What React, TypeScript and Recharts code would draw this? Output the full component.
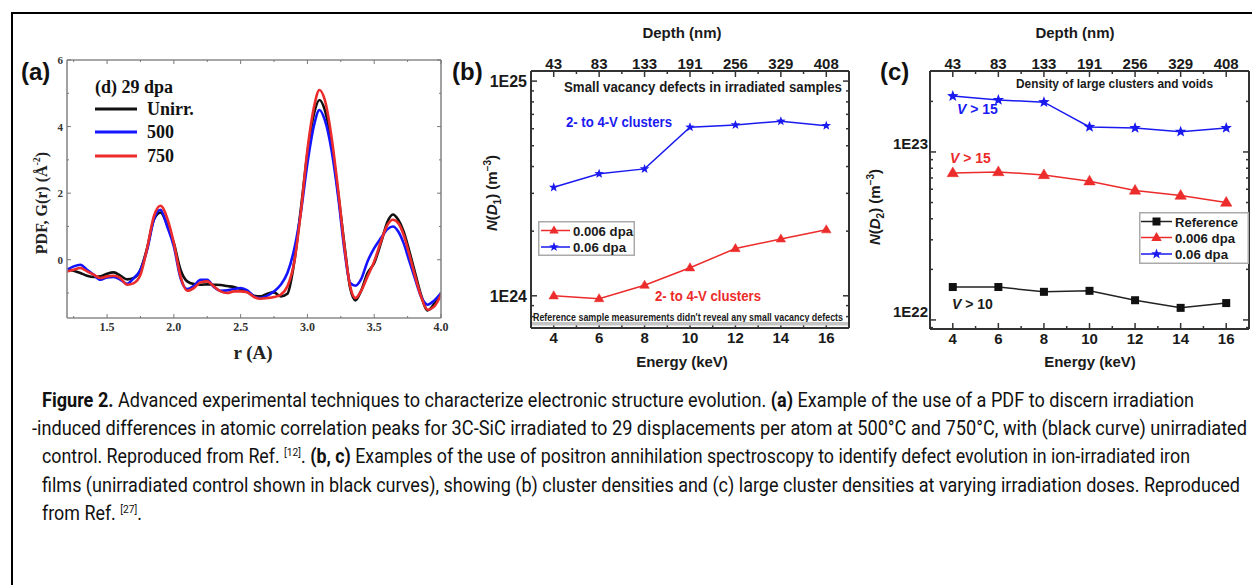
import React from 'react';
import { LineChart, Line, XAxis, YAxis, Legend } from 'recharts';

// ---------------- data ----------------
const rValues = [1.2, 1.25, 1.3, 1.35, 1.4, 1.45, 1.5, 1.55, 1.6, 1.65, 1.7, 1.75, 1.8, 1.85, 1.9, 1.95, 2.0, 2.05, 2.1, 2.15, 2.2, 2.25, 2.3, 2.35, 2.4, 2.45, 2.5, 2.55, 2.6, 2.65, 2.7, 2.75, 2.8, 2.85, 2.9, 2.95, 3.0, 3.05, 3.09, 3.13, 3.18, 3.23, 3.28, 3.32, 3.36, 3.4, 3.45, 3.5, 3.55, 3.6, 3.64, 3.68, 3.72, 3.76, 3.8, 3.85, 3.9, 3.95, 4.0];
const pdfUnirr = [-0.30, -0.33, -0.40, -0.48, -0.52, -0.50, -0.42, -0.38, -0.48, -0.59, -0.55, -0.30, 0.35, 1.20, 1.42, 1.05, 0.50, -0.30, -0.65, -0.73, -0.75, -0.74, -0.75, -0.76, -0.79, -0.82, -0.88, -0.97, -1.08, -1.10, -1.02, -0.98, -1.10, -1.02, -0.10, 1.50, 3.20, 4.40, 4.80, 4.50, 3.50, 2.00, 0.35, -0.85, -1.22, -0.95, -0.40, -0.10, 0.50, 1.15, 1.36, 1.20, 0.85, 0.30, -0.30, -1.05, -1.52, -1.32, -1.05];
const pdf500 = [-0.30, -0.20, -0.15, -0.30, -0.45, -0.60, -0.53, -0.52, -0.60, -0.72, -0.55, -0.30, 0.30, 1.20, 1.50, 1.00, 0.40, -0.55, -0.88, -0.78, -0.60, -0.60, -0.82, -0.93, -0.92, -0.88, -0.85, -0.92, -1.10, -1.15, -1.08, -0.95, -0.75, -0.40, 0.30, 1.40, 2.90, 4.05, 4.50, 4.20, 3.30, 1.90, 0.20, -0.70, -0.78, -0.60, -0.05, 0.35, 0.65, 0.92, 1.00, 0.85, 0.50, 0.00, -0.50, -1.10, -1.35, -1.22, -1.00];
const pdf750 = [-0.35, -0.30, -0.25, -0.35, -0.45, -0.55, -0.50, -0.48, -0.55, -0.75, -0.70, -0.45, 0.35, 1.30, 1.62, 1.25, 0.50, -0.50, -0.93, -0.85, -0.68, -0.65, -0.80, -0.95, -1.00, -0.95, -0.95, -0.98, -1.12, -1.17, -1.15, -1.12, -1.05, -0.80, -0.10, 1.40, 3.30, 4.60, 5.10, 4.80, 3.70, 2.10, 0.30, -0.80, -1.15, -0.95, -0.50, -0.05, 0.55, 1.05, 1.20, 1.10, 0.75, 0.20, -0.40, -1.10, -1.50, -1.40, -1.05];

const pdfXTicks = [1.25, 1.5, 1.75, 2.0, 2.25, 2.5, 2.75, 3.0, 3.25, 3.5, 3.75, 4.0];
const pdfYTicks = [-1, 0, 1, 2, 3, 4, 5, 6];

const energyKeV = [4, 6, 8, 10, 12, 14, 16];
const depthNm = ['43', '83', '133', '191', '256', '329', '408'];
const energyTicks = [4, 5, 6, 7, 8, 9, 10, 11, 12, 13, 14, 15, 16];

const smallVac006 = [1.0e24, 0.97e24, 1.12e24, 1.35e24, 1.66e24, 1.84e24, 2.03e24];
const smallVac06 = [3.2e24, 3.7e24, 3.9e24, 6.1e24, 6.25e24, 6.5e24, 6.2e24];
const largeRef = [1.57e22, 1.57e22, 1.47e22, 1.49e22, 1.31e22, 1.18e22, 1.26e22];
const large006 = [7.5e22, 7.6e22, 7.3e22, 6.7e22, 5.9e22, 5.5e22, 5.0e22];
const large06 = [2.15e23, 2.04e23, 1.98e23, 1.41e23, 1.39e23, 1.32e23, 1.39e23];

const logTicksB = [8e23, 9e23, 1e24, 2e24, 3e24, 4e24, 5e24, 6e24, 7e24, 8e24, 9e24, 1e25];
const logTicksC = [9e21, 1e22, 2e22, 3e22, 4e22, 5e22, 6e22, 7e22, 8e22, 9e22, 1e23, 2e23];

const pdfData = rValues.map((r, i) => ({ r, unirr: pdfUnirr[i], t500: pdf500[i], t750: pdf750[i] }));
const dataB = energyKeV.map((e, i) => ({ e, d006: smallVac006[i], d06: smallVac06[i] }));
const dataC = energyKeV.map((e, i) => ({ e, ref: largeRef[i], d006: large006[i], d06: large06[i] }));

// ---------------- styling helpers ----------------
const TM = 10;
const SERIF = "'Liberation Serif', 'Times New Roman', serif";
const SANS = "'Liberation Sans', Arial, sans-serif";
const CAP = "Roboto, 'Liberation Sans', sans-serif";
const BLUE = '#1a1af0';
const RED = '#ec2b2b';

type Side = 'bottom' | 'top' | 'left' | 'right';
interface TickStyle { major: number; minor: number; stroke: string; sw: number; font: string; size: number; color: string; gap: number; dy?: number; }

function makeTick(side: Side, isMajor: (v: number) => boolean, fmt: ((v: number) => string) | null, st: TickStyle) {
  return (props: any) => {
    const { x, y, payload } = props;
    const v = payload.value;
    const maj = isMajor(v);
    const len = maj ? st.major : st.minor;
    const text = maj && fmt ? fmt(v) : null;
    let l = [0, 0, 0, 0];
    let label: any = null;
    const tp = { fontFamily: st.font, fontSize: st.size, fontWeight: 700, fill: st.color } as any;
    if (side === 'bottom') {
      const ay = y - TM;
      l = [x, ay, x, ay - len];
      if (text) label = <text {...tp} x={x} y={ay + st.gap} dy="0.72em" textAnchor="middle">{text}</text>;
    } else if (side === 'top') {
      const ay = y + TM;
      l = [x, ay, x, ay + len];
      if (text) label = <text {...tp} x={x} y={ay - st.gap} textAnchor="middle">{text}</text>;
    } else if (side === 'left') {
      const ax = x + TM;
      l = [ax, y, ax + len, y];
      if (text) label = <text {...tp} x={ax - st.gap} y={y + (st.dy || 0)} dy="0.36em" textAnchor="end">{text}</text>;
    } else {
      const ax = x - TM;
      l = [ax, y, ax - len, y];
    }
    return (
      <g>
        <line x1={l[0]} y1={l[1]} x2={l[2]} y2={l[3]} stroke={st.stroke} strokeWidth={st.sw} />
        {label}
      </g>
    );
  };
}

const isLogMajor = (v: number) => Math.abs(v / Math.pow(10, Math.round(Math.log10(v))) - 1) < 1e-6;
const fmtLog = (v: number) => '1E' + Math.round(Math.log10(v));

function starPath(cx: number, cy: number, R: number, r: number) {
  let d = '';
  for (let i = 0; i < 10; i++) {
    const a = -Math.PI / 2 + (i * Math.PI) / 5;
    const rad = i % 2 === 0 ? R : r;
    d += (i === 0 ? 'M' : 'L') + (cx + rad * Math.cos(a)).toFixed(2) + ',' + (cy + rad * Math.sin(a)).toFixed(2);
  }
  return d + 'Z';
}
const triPath = (cx: number, cy: number, s: number) => `M${cx},${cy - s}L${cx + s * 0.95},${cy + s * 0.62}L${cx - s * 0.95},${cy + s * 0.62}Z`;

const triDot = (color: string, s: number) => (p: any) =>
  p.cx == null ? <g key={`t${p.index}`} /> : <path key={`t${p.index}`} d={triPath(p.cx, p.cy, s)} fill={color} stroke={color} strokeWidth={0.5} />;
const starDot = (color: string, R: number) => (p: any) =>
  p.cx == null ? <g key={`s${p.index}`} /> : <path key={`s${p.index}`} d={starPath(p.cx, p.cy, R, R * 0.42)} fill={color} />;
const sqDot = (color: string, s: number) => (p: any) =>
  p.cx == null ? <g key={`q${p.index}`} /> : <rect key={`q${p.index}`} x={p.cx - s / 2} y={p.cy - s / 2} width={s} height={s} fill={color} />;

// ---------------- panel A ----------------
const aTick: TickStyle = { major: 4, minor: 2, stroke: '#777', sw: 1, font: SERIF, size: 12, color: '#333', gap: 4 };
const aMajorX = (v: number) => Math.abs(v * 2 - Math.round(v * 2)) < 1e-6;
const aMajorY = (v: number) => v % 2 === 0;

function PanelA() {
  const axisLine = { stroke: '#8a8a8a', strokeWidth: 1.6 };
  return (
    <div style={{ position: 'absolute', left: 0, top: 0 }}>
      <LineChart width={460} height={370} data={pdfData} margin={{ top: 59, right: 18, bottom: 51, left: 66 }}>
        <XAxis xAxisId="b" dataKey="r" type="number" domain={[1.2, 4.0]} allowDataOverflow ticks={pdfXTicks} interval={0} height={1} tickSize={0} tickMargin={TM} tickLine={false} axisLine={axisLine}
          tick={makeTick('bottom', aMajorX, (v) => v.toFixed(1), aTick)} />
        <XAxis xAxisId="t" dataKey="r" orientation="top" type="number" domain={[1.2, 4.0]} allowDataOverflow ticks={pdfXTicks} interval={0} height={1} tickSize={0} tickMargin={TM} tickLine={false} axisLine={axisLine}
          tick={makeTick('top', aMajorX, null, aTick)} />
        <YAxis yAxisId="l" type="number" domain={[-1.75, 6]} allowDataOverflow ticks={pdfYTicks} interval={0} width={1} tickSize={0} tickMargin={TM} tickLine={false} axisLine={axisLine}
          tick={makeTick('left', aMajorY, (v) => String(v), { ...aTick, size: 11 })} />
        <YAxis yAxisId="r" dataKey="unirr" orientation="right" type="number" domain={[-1.75, 6]} allowDataOverflow ticks={pdfYTicks} interval={0} width={1} tickSize={0} tickMargin={TM} tickLine={false} axisLine={axisLine}
          tick={makeTick('right', aMajorY, null, aTick)} />
        <Legend layout="vertical" align="center" verticalAlign="middle" wrapperStyle={{ position: 'absolute', left: 90, top: 70, width: 140, height: 100 }}
          content={() => (
            <svg width={140} height={100} style={{ display: 'block' }}>
              <g fontFamily={SERIF} fontWeight={700} fontSize={18} fill="#111">
                <text x={5} y={23}>(d) 29 dpa</text>
                <line x1={5} x2={47} y1={39} y2={39} stroke="#111" strokeWidth={3} />
                <text x={57} y={45}>Unirr.</text>
                <line x1={5} x2={47} y1={62} y2={62} stroke={'#1414ff'} strokeWidth={3} />
                <text x={57} y={68}>500</text>
                <line x1={5} x2={47} y1={86} y2={86} stroke={RED} strokeWidth={3} />
                <text x={57} y={92}>750</text>
              </g>
            </svg>
          )} />
        <Line xAxisId="b" yAxisId="l" type="monotone" dataKey="unirr" stroke="#111" strokeWidth={2.6} dot={false} isAnimationActive={false} />
        <Line xAxisId="b" yAxisId="l" type="monotone" dataKey="t500" stroke="#1414ff" strokeWidth={2.6} dot={false} isAnimationActive={false} />
        <Line xAxisId="b" yAxisId="l" type="monotone" dataKey="t750" stroke={RED} strokeWidth={2.6} dot={false} isAnimationActive={false} />
      </LineChart>
    </div>
  );
}

// ---------------- panels B and C ----------------
const bcTick: TickStyle = { major: 6, minor: 3, stroke: '#333', sw: 1.5, font: SANS, size: 15, color: '#1a1a1a', gap: 4.5 };
const eMajor = (v: number) => v % 2 === 0;
const depthFmt = (v: number) => depthNm[energyKeV.indexOf(v)] ?? '';

function PanelB() {
  const axisLine = { stroke: '#333', strokeWidth: 2 };
  const yDom = [Math.pow(10, 23.85), Math.pow(10, 25.047)];
  return (
    <div style={{ position: 'absolute', left: 440, top: 0 }}>
      <LineChart width={420} height={375} data={dataB} margin={{ top: 70, right: 10, bottom: 46, left: 90 }}>
        <XAxis xAxisId="b" dataKey="e" type="number" domain={[3, 17]} allowDataOverflow ticks={energyTicks} interval={0} height={1} tickSize={0} tickMargin={TM} tickLine={false} axisLine={axisLine}
          tick={makeTick('bottom', eMajor, (v) => String(v), bcTick)} />
        <XAxis xAxisId="t" dataKey="e" orientation="top" type="number" domain={[3, 17]} allowDataOverflow ticks={energyTicks} interval={0} height={1} tickSize={0} tickMargin={TM} tickLine={false} axisLine={axisLine}
          tick={makeTick('top', eMajor, depthFmt, { ...bcTick, gap: 2.5 })} />
        <YAxis yAxisId="l" scale="log" type="number" domain={yDom} allowDataOverflow ticks={logTicksB} interval={0} width={1} tickSize={0} tickMargin={TM} tickLine={false} axisLine={axisLine}
          tick={makeTick('left', isLogMajor, fmtLog, { ...bcTick, size: 16, gap: 4 })} />
        <YAxis yAxisId="r" dataKey="d06" orientation="right" scale="log" type="number" domain={yDom} allowDataOverflow ticks={logTicksB} interval={0} width={1} tickSize={0} tickMargin={TM} tickLine={false} axisLine={axisLine}
          tick={makeTick('right', isLogMajor, null, bcTick)} />
        <Legend layout="vertical" align="center" verticalAlign="middle" wrapperStyle={{ position: 'absolute', left: 98, top: 221, width: 97, height: 35 }}
          content={() => (
            <svg width={97} height={35} style={{ display: 'block' }}>
              <rect x={0.75} y={0.75} width={95.5} height={33.5} fill="#fff" stroke="#aaa" strokeWidth={1.5} />
              <line x1={3} x2={32} y1={9.5} y2={9.5} stroke={RED} strokeWidth={1.5} />
              <path d={triPath(16, 9.5, 5)} fill={RED} />
              <line x1={3} x2={32} y1={26} y2={26} stroke={BLUE} strokeWidth={1.5} />
              <path d={starPath(16, 26, 5, 2.1)} fill={BLUE} />
              <g fontFamily={SANS} fontWeight={700} fontSize={13.5} fill="#1a1a1a">
                <text x={35} y={14.5} textLength={60} lengthAdjust="spacingAndGlyphs">0.006 dpa</text>
                <text x={35} y={31} textLength={53} lengthAdjust="spacingAndGlyphs">0.06 dpa</text>
              </g>
            </svg>
          )} />
        <Line xAxisId="b" yAxisId="l" type="linear" dataKey="d006" stroke={RED} strokeWidth={1.5} dot={triDot(RED, 5)} isAnimationActive={false} />
        <Line xAxisId="b" yAxisId="l" type="linear" dataKey="d06" stroke={BLUE} strokeWidth={1.5} dot={starDot(BLUE, 5)} isAnimationActive={false} />
      </LineChart>
    </div>
  );
}

function PanelC() {
  const axisLine = { stroke: '#333', strokeWidth: 2 };
  const yDom = [Math.pow(10, 21.946), Math.pow(10, 23.482)];
  return (
    <div style={{ position: 'absolute', left: 860, top: 0 }}>
      <LineChart width={392} height={375} data={dataC} margin={{ top: 70, right: 2, bottom: 45, left: 69 }}>
        <XAxis xAxisId="b" dataKey="e" type="number" domain={[3, 17]} allowDataOverflow ticks={energyTicks} interval={0} height={1} tickSize={0} tickMargin={TM} tickLine={false} axisLine={axisLine}
          tick={makeTick('bottom', eMajor, (v) => String(v), bcTick)} />
        <XAxis xAxisId="t" dataKey="e" orientation="top" type="number" domain={[3, 17]} allowDataOverflow ticks={energyTicks} interval={0} height={1} tickSize={0} tickMargin={TM} tickLine={false} axisLine={axisLine}
          tick={makeTick('top', eMajor, depthFmt, { ...bcTick, gap: 2.5 })} />
        <YAxis yAxisId="l" scale="log" type="number" domain={yDom} allowDataOverflow ticks={logTicksC} interval={0} width={1} tickSize={0} tickMargin={TM} tickLine={false} axisLine={axisLine}
          tick={makeTick('left', isLogMajor, fmtLog, { ...bcTick, size: 15, gap: 2, dy: -8 })} />
        <YAxis yAxisId="r" dataKey="d06" orientation="right" scale="log" type="number" domain={yDom} allowDataOverflow ticks={logTicksC} interval={0} width={1} tickSize={0} tickMargin={TM} tickLine={false} axisLine={axisLine}
          tick={makeTick('right', isLogMajor, null, bcTick)} />
        <Legend layout="vertical" align="center" verticalAlign="middle" wrapperStyle={{ position: 'absolute', left: 279, top: 212, width: 110, height: 52 }}
          content={() => (
            <svg width={110} height={52} style={{ display: 'block' }}>
              <rect x={0.75} y={0.75} width={108.5} height={50.5} fill="#fff" stroke="#aaa" strokeWidth={1.5} />
              <line x1={2} x2={33} y1={9.5} y2={9.5} stroke="#222" strokeWidth={1.5} />
              <rect x={13.5} y={5.5} width={8} height={8} fill="#111" />
              <line x1={2} x2={33} y1={25.5} y2={25.5} stroke={RED} strokeWidth={1.5} />
              <path d={triPath(17.5, 25.5, 5.5)} fill={RED} />
              <line x1={2} x2={33} y1={42} y2={42} stroke={BLUE} strokeWidth={1.5} />
              <path d={starPath(17.5, 42, 5.5, 2.3)} fill={BLUE} />
              <g fontFamily={SANS} fontWeight={700} fontSize={13.2} fill="#1a1a1a">
                <text x={36} y={14.5} textLength={63} lengthAdjust="spacingAndGlyphs">Reference</text>
                <text x={36} y={30.5} textLength={60} lengthAdjust="spacingAndGlyphs">0.006 dpa</text>
                <text x={36} y={47} textLength={53} lengthAdjust="spacingAndGlyphs">0.06 dpa</text>
              </g>
            </svg>
          )} />
        <Line xAxisId="b" yAxisId="l" type="linear" dataKey="ref" stroke="#222" strokeWidth={1.5} dot={sqDot('#111', 8)} isAnimationActive={false} />
        <Line xAxisId="b" yAxisId="l" type="linear" dataKey="d006" stroke={RED} strokeWidth={1.5} dot={triDot(RED, 6)} isAnimationActive={false} />
        <Line xAxisId="b" yAxisId="l" type="linear" dataKey="d06" stroke={BLUE} strokeWidth={1.5} dot={starDot(BLUE, 6)} isAnimationActive={false} />
      </LineChart>
    </div>
  );
}

// ---------------- caption & titles ----------------
interface Part { t: string; b?: boolean; sup?: boolean }
const captionLines: { x: number; y: number; len: number; parts: Part[] }[] = [
  { x: 42, y: 406.5, len: 1152, parts: [{ t: 'Figure 2.', b: true }, { t: ' Advanced experimental techniques to characterize electronic structure evolution. ' }, { t: '(a)', b: true }, { t: ' Example of the use of a PDF to discern irradiation' }] },
  { x: 32, y: 435, len: 1215, parts: [{ t: '-induced differences in atomic correlation peaks for 3C-SiC irradiated to 29 displacements per atom at 500°C and 750°C, with (black curve) unirradiated' }] },
  { x: 42, y: 463.3, len: 1148, parts: [{ t: 'control. Reproduced from Ref. ' }, { t: '[12]', sup: true }, { t: '. ' }, { t: '(b, c)', b: true }, { t: ' Examples of the use of positron annihilation spectroscopy to identify defect evolution in ion-irradiated iron' }] },
  { x: 42, y: 491.7, len: 1198, parts: [{ t: 'films (unirradiated control shown in black curves), showing (b) cluster densities and (c) large cluster densities at varying irradiation doses. Reproduced' }] },
  { x: 42, y: 520, len: 100, parts: [{ t: 'from Ref. ' }, { t: '[27]', sup: true }, { t: '.' }] },
];

function CaptionLine({ x, y, len, parts }: { x: number; y: number; len: number; parts: Part[] }) {
  let shift = 0;
  return (
    <text x={x} y={y} textLength={len} lengthAdjust="spacingAndGlyphs" fontFamily={CAP} fontSize={20} fill="#111">
      {parts.map((p, i) => {
        const target = p.sup ? -7 : 0;
        const dy = target - shift;
        shift = target;
        return (
          <tspan key={i} dy={dy} fontWeight={p.b ? 700 : 400} fontSize={p.sup ? 11.5 : 20}>{p.t}</tspan>
        );
      })}
    </text>
  );
}

function Overlay() {
  return (
    <svg width={1252} height={585} style={{ position: 'absolute', left: 0, top: 0, pointerEvents: 'none' }}>
      <line x1={12} x2={1252} y1={13} y2={13} stroke="#000" strokeWidth={2} />
      <line x1={12} x2={12} y1={12} y2={585} stroke="#000" strokeWidth={2} />
      <g fontFamily={SANS} fontWeight={700} fontSize={24} fill="#111">
        <text x={21} y={80}>(a)</text>
        <text x={452} y={80}>(b)</text>
        <text x={880} y={80}>(c)</text>
      </g>
      <g fontFamily={SERIF} fontWeight={700} fill="#222">
        <text x={253} y={352} dy="0.35em" fontSize={19} textAnchor="middle">r (A)</text>
        <text transform="translate(41,203) rotate(-90)" dy="0.35em" fontSize={16} textAnchor="middle">
          PDF, G(r) (Å<tspan fontSize={10} dy={-7}>-2</tspan><tspan dy={7}>)</tspan>
        </text>
      </g>
      <g fontFamily={SANS} fontWeight={700} fill="#1a1a1a" fontSize={15}>
        <text x={682} y={33} dy="0.35em" textAnchor="middle">Depth (nm)</text>
        <text x={1075} y={33} dy="0.35em" textAnchor="middle">Depth (nm)</text>
        <text x={682} y={362} dy="0.35em" textAnchor="middle">Energy (keV)</text>
        <text x={1090} y={362} dy="0.35em" textAnchor="middle">Energy (keV)</text>
        <text transform="translate(492,193) rotate(-90)" dy="0.35em" textAnchor="middle">
          <tspan fontStyle="italic">N</tspan>(<tspan fontStyle="italic">D</tspan><tspan fontSize={10} dy={4}>1</tspan><tspan dy={-4}>) (m</tspan><tspan fontSize={10} dy={-6}>−3</tspan><tspan dy={6}>)</tspan>
        </text>
        <text transform="translate(875,207) rotate(-90)" dy="0.35em" textAnchor="middle">
          <tspan fontStyle="italic">N</tspan>(<tspan fontStyle="italic">D</tspan><tspan fontSize={10} dy={4}>2</tspan><tspan dy={-4}>) (m</tspan><tspan fontSize={10} dy={-6}>−3</tspan><tspan dy={6}>)</tspan>
        </text>
      </g>
      <g fontFamily={SANS} fontWeight={700}>
        <text x={564} y={87} dy="0.35em" fontSize={14} fill="#1a1a1a" textLength={278} lengthAdjust="spacingAndGlyphs">Small vacancy defects in irradiated samples</text>
        <text x={566} y={122} dy="0.35em" fontSize={15} fill={BLUE} textLength={106} lengthAdjust="spacingAndGlyphs">2- to 4-V clusters</text>
        <text x={655} y={296} dy="0.35em" fontSize={15} fill={RED} textLength={106} lengthAdjust="spacingAndGlyphs">2- to 4-V clusters</text>
        <text x={533} y={317} dy="0.35em" fontSize={10.5} fill="#1a1a1a" textLength={310} lengthAdjust="spacingAndGlyphs">Reference sample measurements didn't reveal any small vacancy defects</text>
      </g>
      <rect x={532} y={322} width={316} height={3.5} fill="#c4c4c4" />
      <g fontFamily={SANS} fontWeight={700}>
        <text x={1016} y={84} dy="0.35em" fontSize={12.5} fill="#1a1a1a" textLength={197} lengthAdjust="spacingAndGlyphs">Density of large clusters and voids</text>
        <text x={957} y={109} dy="0.35em" fontSize={14} fill={BLUE}><tspan fontStyle="italic">V</tspan> &gt; 15</text>
        <text x={950} y={158} dy="0.35em" fontSize={14} fill={RED}><tspan fontStyle="italic">V</tspan> &gt; 15</text>
        <text x={952} y={304} dy="0.35em" fontSize={14} fill="#1a1a1a"><tspan fontStyle="italic">V</tspan> &gt; 10</text>
      </g>
      {captionLines.map((l, i) => <CaptionLine key={i} {...l} />)}
    </svg>
  );
}

export default function App() {
  return (
    <div style={{ position: 'absolute', left: 0, top: 0, width: 1252, height: 585, background: '#fff', overflow: 'hidden' }}>
      <PanelA />
      <PanelB />
      <PanelC />
      <Overlay />
    </div>
  );
}
